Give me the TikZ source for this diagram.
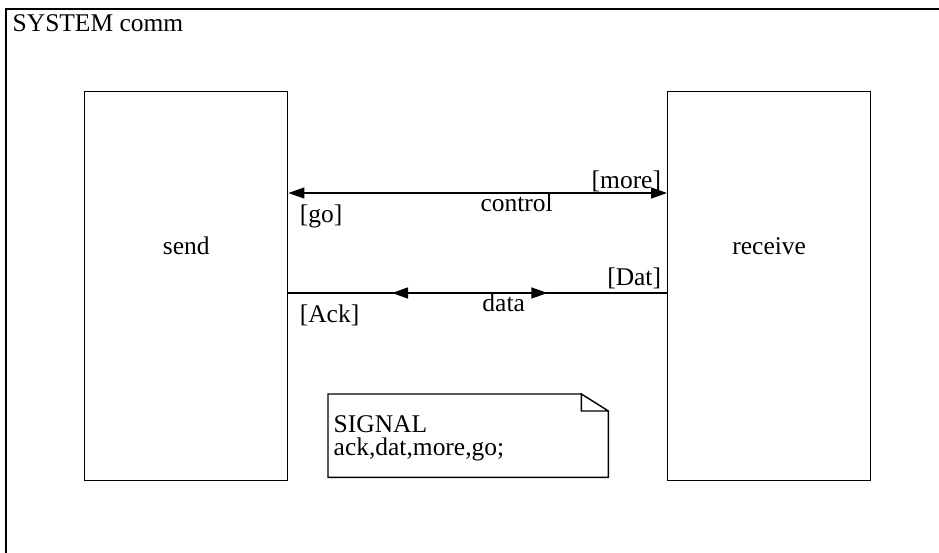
\documentclass[tikz,border=0pt]{standalone}
\usepackage{fontspec}
\setmainfont{Liberation Serif}
\usetikzlibrary{positioning,arrows.meta,calc,decorations.markings}

\begin{document}
\begin{tikzpicture}[
    x=0.02cm, y=-0.02cm,
    font=\fontsize{14.5}{17}\selectfont,
    line width=0.8pt,
    block/.style={draw, minimum width=203*0.02cm, minimum height=389*0.02cm, inner sep=0pt},
    arr/.style={{Triangle[length=3.2mm,width=2.2mm]}-{Triangle[length=3.2mm,width=2.2mm]}},
    gate/.style={inner sep=1pt},
    midarr/.style={decoration={markings,
        mark=at position 0.316 with {\arrow{Triangle[length=3.2mm,width=2.2mm,reversed]}},
        mark=at position 0.684 with {\arrow{Triangle[length=3.2mm,width=2.2mm]}}},
        postaction={decorate}}
]
\useasboundingbox (0,0) rectangle (939,552);
\clip (0,0) rectangle (939,552);

% Frame
\draw (6,9) rectangle (960,580);
\node[anchor=base west, inner sep=0pt] (title) at (12,31) {SYSTEM comm};

% Blocks
\node[block, anchor=north west, label={[yshift=0.8cm]center:send}] (send) at (84,91) {};
\node[block, anchor=north west, label={[yshift=0.8cm]center:receive}] (receive) at (667,91) {};

% Channels
\coordinate (ctlA) at (send.east |- 0,193);
\coordinate (ctlB) at (receive.west |- 0,193);
\coordinate (datA) at (send.east |- 0,293);
\coordinate (datB) at (receive.west |- 0,293);
\draw[arr] (ctlA) -- node[below=-3pt, xshift=39*0.02cm] {control} (ctlB);
\draw[midarr] (datA) -- node[below=-3pt, xshift=26*0.02cm] {data} (datB);

% Signal lists
\node[gate, anchor=south east] at ([xshift=-2pt,yshift=-1pt]ctlB) {[more]};
\node[gate, anchor=north west] at ([xshift=9*0.02cm,yshift=-9*0.02cm]ctlA) {[go]};
\node[gate, anchor=south east] at ([xshift=-2pt,yshift=1pt]datB) {[Dat]};
\node[gate, anchor=north west] at ([xshift=9*0.02cm,yshift=-9*0.02cm]datA) {[Ack]};

% Declarations
\node[anchor=north west, inner sep=0pt, minimum width=279*0.02cm,
      minimum height=82*0.02cm] (decl) at (328,394) {};
\node[anchor=north west, align=left, inner sep=0pt,
      font=\fontsize{14.5}{13}\selectfont] (decltext)
      at ([xshift=5*0.02cm,yshift=-21*0.02cm]decl.north west) {SIGNAL\\ack,dat,more,go;};
\draw ([xshift=-27*0.02cm]decl.north east) -- (decl.north west) -- (decl.south west)
      -- (decl.south east) -- ([yshift=-17*0.02cm]decl.north east)
      -- ([xshift=-27*0.02cm]decl.north east) -- ([xshift=-27*0.02cm,yshift=-17*0.02cm]decl.north east)
      -- ([yshift=-17*0.02cm]decl.north east);

\end{tikzpicture}
\end{document}
